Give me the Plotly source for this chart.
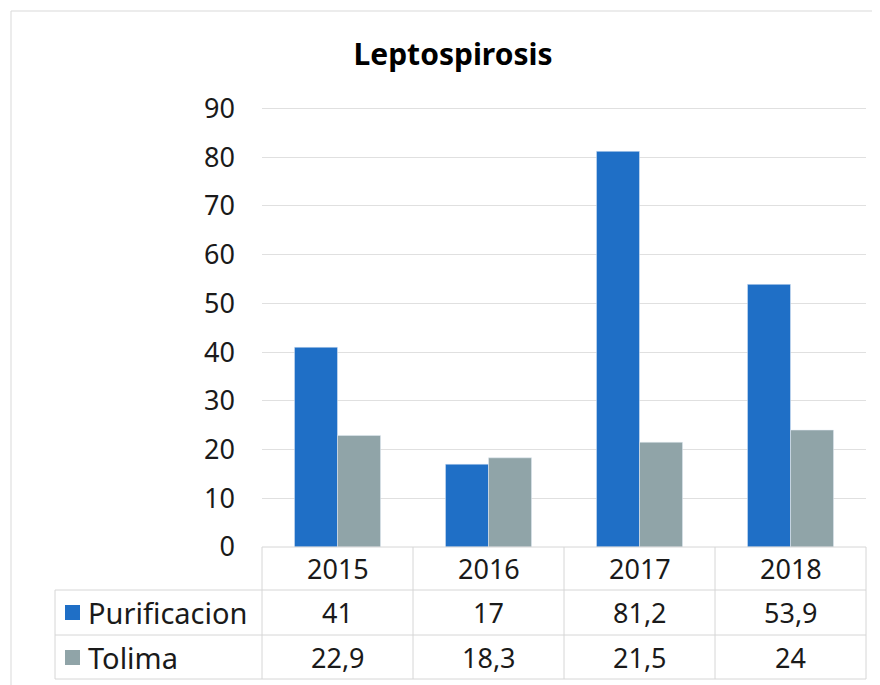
import plotly.graph_objects as go

# data
years = ["2015", "2016", "2017", "2018"]
purificacion = [41, 17, 81.2, 53.9]
tolima = [22.9, 18.3, 21.5, 24]
series_names = ["Purificacion", "Tolima"]
y_ticks = [0, 10, 20, 30, 40, 50, 60, 70, 80, 90]

BLUE = "#1f6fc6"
GRAY = "#90a4a8"
LINE = "#d6d6d6"
TEXT = "#1a1a1a"
FONT = "Noto Sans, Lato, sans-serif"

# page has an 8px body margin, so the figure is drawn 8px in from the corner
OFF = 8
W, H = 880 - OFF, 685 - OFF
L, R, T, B = 262 - OFF, 880 - 866, 107 - OFF, 685 - 547
PW, PH = W - L - R, H - T - B


def px_x(p):
    # page pixel -> paper coordinate
    return (p - OFF - L) / PW


def px_y(p):
    return (H - B - (p - OFF)) / PH


def fmt(v):
    return f"{v:g}".replace(".", ",")


fig = go.Figure()
fig.add_trace(go.Bar(x=years, y=purificacion, name=series_names[0], marker_color=BLUE))
fig.add_trace(go.Bar(x=years, y=tolima, name=series_names[1], marker_color=GRAY))

shapes = []
annotations = []

# outer chart frame
shapes.append(dict(type="rect", xref="paper", yref="paper",
                   x0=px_x(11), x1=px_x(876), y0=px_y(11), y1=px_y(700),
                   line=dict(color="#d9d9d9", width=1)))

# data table grid
row_lines = [547, 590, 635, 679]
n = len(years)
shapes.append(dict(type="line", xref="paper", yref="paper", x0=0, x1=1,
                   y0=0, y1=0, line=dict(color=LINE, width=1)))
for py in row_lines[1:]:
    shapes.append(dict(type="line", xref="paper", yref="paper", x0=px_x(55), x1=1,
                       y0=px_y(py), y1=px_y(py), line=dict(color=LINE, width=1)))
for i in range(n + 1):
    shapes.append(dict(type="line", xref="paper", yref="paper", x0=i / n, x1=i / n,
                       y0=0, y1=px_y(679), line=dict(color=LINE, width=1)))
shapes.append(dict(type="line", xref="paper", yref="paper", x0=px_x(55), x1=px_x(55),
                   y0=px_y(590), y1=px_y(679), line=dict(color=LINE, width=1)))

# header row
for i, yr in enumerate(years):
    annotations.append(dict(x=(i + 0.5) / n, y=px_y(568), xref="paper", yref="paper",
                            text=yr, showarrow=False, xanchor="center", yanchor="middle",
                            font=dict(family=FONT, size=27, color=TEXT)))

# value rows with legend keys
rows = [(series_names[0], purificacion, BLUE, 612), (series_names[1], tolima, GRAY, 657)]
for name, vals, col, py in rows:
    shapes.append(dict(type="rect", xref="paper", yref="paper",
                       x0=px_x(65), x1=px_x(80), y0=px_y(py + 8), y1=px_y(py - 7),
                       fillcolor=col, line=dict(width=0)))
    annotations.append(dict(x=px_x(86), y=px_y(py), xref="paper", yref="paper", text=name,
                            showarrow=False, xanchor="left", yanchor="middle",
                            font=dict(family=FONT, size=29, color=TEXT)))
    for i, v in enumerate(vals):
        annotations.append(dict(x=(i + 0.5) / n, y=px_y(py), xref="paper", yref="paper",
                                text=fmt(v), showarrow=False, xanchor="center",
                                yanchor="middle",
                                font=dict(family=FONT, size=27, color=TEXT)))

fig.update_layout(
    width=W, height=H,
    margin=dict(l=L, r=R, t=T, b=B, autoexpand=False),
    paper_bgcolor="white", plot_bgcolor="white",
    barmode="group", bargap=0.43, bargroupgap=0,
    showlegend=False,
    title=dict(text="<b>Leptospirosis</b>", x=(453 - OFF) / W, xanchor="center",
               y=1 - (54 - OFF) / H, yanchor="middle",
               font=dict(family=FONT, size=30, color="#000000")),
    xaxis=dict(type="category", range=[-0.5, n - 0.5], showticklabels=False,
               showgrid=False, zeroline=False, showline=False),
    yaxis=dict(range=[0, 90.3], tickvals=y_ticks, showgrid=True, gridcolor="#e0e0e0",
               gridwidth=1, zeroline=False, showline=False, ticks="",
               ticklabelstandoff=26,
               tickfont=dict(family=FONT, size=27, color=TEXT)),
    shapes=shapes,
    annotations=annotations,
)

fig.write_html("out.html")
